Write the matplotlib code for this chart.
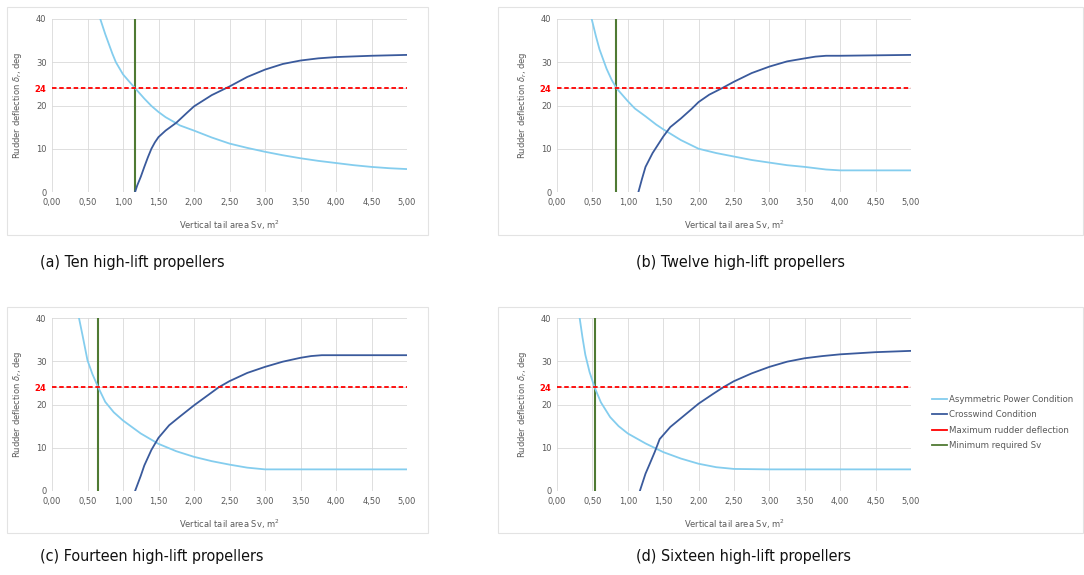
import numpy as np
import matplotlib as mpl
mpl.use('Agg')
import matplotlib.pyplot as plt
from matplotlib.patches import Rectangle
from matplotlib.lines import Line2D

mpl.rcParams.update({'font.family': 'DejaVu Sans', 'font.size': 6})

# ---- data ----
# (a) ten propellers
a_asym_x = [0.68, 0.75, 0.85, 0.9, 1.0, 1.1, 1.17, 1.3, 1.4, 1.5, 1.6, 1.75, 1.8, 2.0,
            2.25, 2.5, 2.75, 3.0, 3.25, 3.5, 3.75, 4.0, 4.25, 4.5, 4.75, 5.0]
a_asym_y = [40.0, 36.5, 32.0, 30.0, 27.2, 25.3, 24.0, 21.6, 19.9, 18.5, 17.3, 15.9, 15.4, 14.2,
            12.6, 11.2, 10.2, 9.3, 8.5, 7.8, 7.2, 6.7, 6.2, 5.8, 5.5, 5.3]
a_cross_x = [1.17, 1.2, 1.25, 1.3, 1.35, 1.4, 1.45, 1.5, 1.6, 1.75, 1.9, 2.0, 2.25, 2.5,
             2.75, 3.0, 3.25, 3.5, 3.75, 4.0, 4.5, 5.0]
a_cross_y = [0.0, 1.5, 3.5, 5.8, 8.0, 10.0, 11.5, 12.7, 14.2, 16.0, 18.3, 19.8, 22.4, 24.4,
             26.6, 28.3, 29.6, 30.4, 30.9, 31.2, 31.5, 31.7]
a_min_sv = 1.17

# (b) twelve propellers
b_asym_x = [0.49, 0.55, 0.6, 0.7, 0.77, 0.84, 0.92, 1.0, 1.1, 1.25, 1.4, 1.5, 1.75, 2.0,
            2.25, 2.5, 2.75, 3.0, 3.25, 3.5, 3.8, 4.0, 5.0]
b_asym_y = [40.0, 36.0, 33.0, 28.5, 26.0, 24.0, 22.5, 21.0, 19.3, 17.5, 15.6, 14.5, 12.0, 10.0,
            9.0, 8.2, 7.4, 6.8, 6.2, 5.8, 5.2, 5.0, 5.0]
b_cross_x = [1.15, 1.2, 1.25, 1.35, 1.5, 1.6, 1.75, 1.9, 2.0, 2.15, 2.33, 2.5, 2.75, 3.0,
             3.25, 3.5, 3.65, 3.8, 4.0, 5.0]
b_cross_y = [0.0, 3.0, 5.8, 9.0, 12.8, 15.0, 17.0, 19.2, 20.8, 22.5, 24.0, 25.5, 27.5, 29.0,
             30.2, 30.9, 31.3, 31.5, 31.5, 31.7]
b_min_sv = 0.84

# (c) fourteen propellers
c_asym_x = [0.38, 0.43, 0.5, 0.57, 0.65, 0.75, 0.87, 1.0, 1.25, 1.5, 1.75, 2.0, 2.25, 2.5,
            2.75, 3.0, 5.0]
c_asym_y = [40.0, 36.0, 30.2, 27.0, 24.0, 20.6, 18.2, 16.3, 13.3, 10.9, 9.2, 7.9, 6.9, 6.1,
            5.4, 5.0, 5.0]
c_cross_x = [1.17, 1.25, 1.3, 1.4, 1.5, 1.65, 1.8, 2.0, 2.2, 2.35, 2.5, 2.75, 3.0, 3.25,
             3.5, 3.65, 3.8, 5.0]
c_cross_y = [0.0, 3.5, 5.9, 9.5, 12.3, 15.2, 17.2, 19.8, 22.2, 24.0, 25.4, 27.3, 28.7, 29.9,
             30.8, 31.2, 31.4, 31.4]
c_min_sv = 0.65

# (d) sixteen propellers
d_asym_x = [0.32, 0.36, 0.4, 0.46, 0.53, 0.62, 0.75, 0.87, 1.0, 1.25, 1.5, 1.75, 2.0, 2.25,
            2.5, 3.0, 5.0]
d_asym_y = [40.0, 35.5, 31.5, 27.5, 24.0, 20.5, 17.1, 15.0, 13.3, 11.0, 9.0, 7.5, 6.3, 5.5,
            5.1, 5.0, 5.0]
d_cross_x = [1.17, 1.25, 1.3, 1.38, 1.45, 1.6, 1.8, 2.0, 2.2, 2.35, 2.5, 2.75, 3.0, 3.25,
             3.5, 3.75, 4.0, 4.5, 5.0]
d_cross_y = [0.0, 4.0, 5.9, 9.0, 12.0, 14.8, 17.5, 20.2, 22.4, 24.0, 25.4, 27.2, 28.7, 29.9,
             30.7, 31.2, 31.6, 32.1, 32.4]
d_min_sv = 0.53

max_deflection = 24
captions = ['(a) Ten high-lift propellers', '(b) Twelve high-lift propellers',
            '(c) Fourteen high-lift propellers', '(d) Sixteen high-lift propellers']
legend_labels = ['Asymmetric Power Condition', 'Crosswind Condition',
                 'Maximum rudder deflection', 'Minimum required Sv']

C_ASYM = '#84cdee'
C_CROSS = '#3a5a9c'
C_RED = '#ff0000'
C_GREEN = '#4f7a33'
C_TXT = '#595959'

W, H = 1084, 575
fig = plt.figure(figsize=(W / 100, H / 100), dpi=100)

def fx(px): return px / W
def fy(py): return 1 - py / H

# chart area boxes (Excel style)
for (x0, y0, x1, y1) in [(7, 7, 428, 235), (498, 7, 1083, 235),
                         (7, 307, 428, 533), (498, 307, 1083, 533)]:
    fig.patches.append(Rectangle((fx(x0), fy(y1)), fx(x1 - x0), (y1 - y0) / H,
                                 transform=fig.transFigure, fill=False,
                                 ec='#e3e3e3', lw=0.8))

panels = [
    (52, 19, 407, 192, a_asym_x, a_asym_y, a_cross_x, a_cross_y, a_min_sv),
    (557, 19, 911, 192, b_asym_x, b_asym_y, b_cross_x, b_cross_y, b_min_sv),
    (52, 318, 407, 491, c_asym_x, c_asym_y, c_cross_x, c_cross_y, c_min_sv),
    (557, 318, 911, 491, d_asym_x, d_asym_y, d_cross_x, d_cross_y, d_min_sv),
]
cap_pos = [(40, 262), (636, 262), (40, 556), (636, 556)]
xt = np.arange(0, 5.01, 0.5)

for i, (l, t, r, b, ax_x, ax_y, cx, cy, msv) in enumerate(panels):
    ax = fig.add_axes([fx(l), fy(b), fx(r - l), (b - t) / H])
    ax.set_xlim(0, 5); ax.set_ylim(0, 40)
    ax.set_xticks(xt)
    ax.set_xticklabels([f'{v:.2f}'.replace('.', ',') for v in xt])
    ax.set_yticks([0, 10, 20, 24, 30, 40])
    ax.set_yticklabels(['0', '10', '20', '24', '30', '40'])
    ax.tick_params(length=0, labelsize=6, colors=C_TXT, pad=4)
    lab24 = ax.get_yticklabels()[3]
    lab24.set_color(C_RED); lab24.set_fontweight('bold')
    ax.grid(True, color='#d9d9d9', lw=0.6)
    for s in ax.spines.values(): s.set_visible(False)
    ax.axhline(0, color='#bfbfbf', lw=0.7, zorder=1)
    ax.plot(ax_x, ax_y, color=C_ASYM, lw=1.3, zorder=3, solid_joinstyle='round')
    ax.plot(cx, cy, color=C_CROSS, lw=1.3, zorder=3, solid_joinstyle='round')
    ax.axhline(max_deflection, color=C_RED, lw=1.3, ls=(0, (2.5, 1.5)), zorder=4)
    ax.axvline(msv, color=C_GREEN, lw=1.5, zorder=2)
    ax.set_xlabel('Vertical tail area Sv, m$^2$', color=C_TXT, fontsize=6, labelpad=9)
    ax.set_ylabel(r'Rudder deflection $\delta_r$, deg', color=C_TXT, fontsize=6, labelpad=8)
    fig.text(fx(cap_pos[i][0]), fy(cap_pos[i][1]), captions[i], fontsize=11.5,
             fontstretch='condensed', va='center', ha='left', color='#111')

handles = [Line2D([], [], color=c, lw=1.3) for c in (C_ASYM, C_CROSS, C_RED, C_GREEN)]
fig.legend(handles=handles, labels=legend_labels, loc='upper left',
           bbox_to_anchor=(fx(924), fy(387)), frameon=False, fontsize=6.2,
           handlelength=1.8, handletextpad=0.2, labelspacing=0.75, labelcolor=C_TXT)

fig.savefig('out.png', dpi=100)
